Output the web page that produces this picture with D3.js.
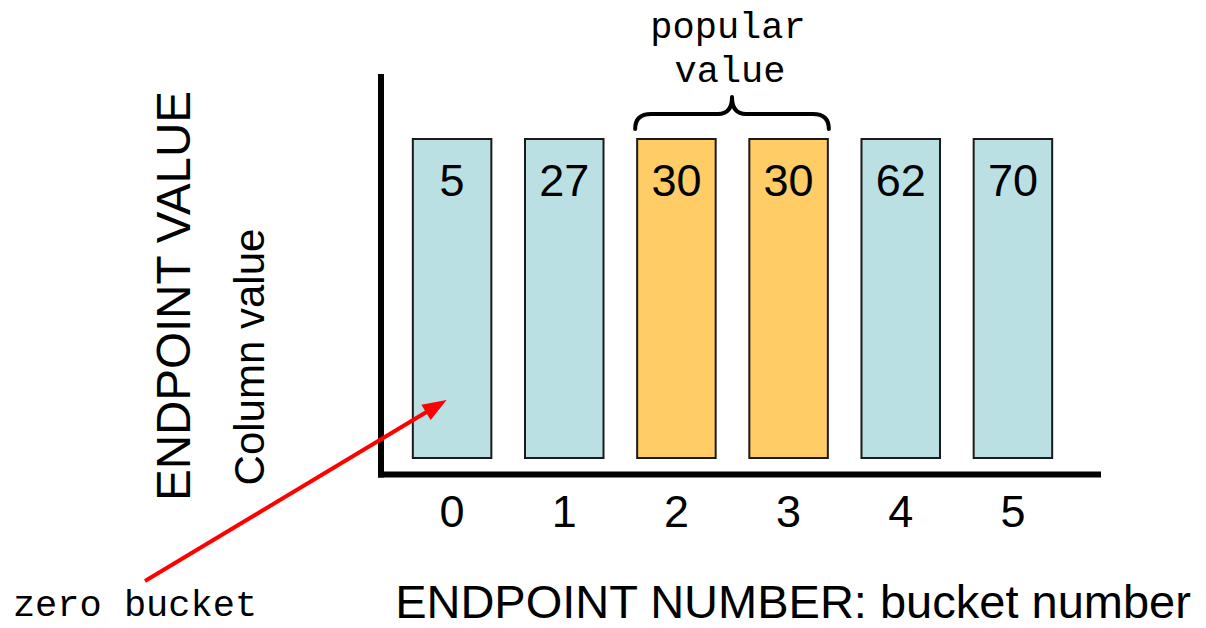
<!DOCTYPE html>
<html>
<head>
<meta charset="utf-8">
<script src="https://cdn.jsdelivr.net/npm/d3@7/dist/d3.min.js"></script>
<style>
  html, body { margin: 0; padding: 0; background: #fff; }
  svg { display: block; }
</style>
</head>
<body>
<svg id="chart" width="1206" height="628"></svg>
<script>
// Height-balanced histogram: every bucket holds the same number of rows,
// the label inside each bar is that bucket's endpoint value.
const buckets = [0, 1, 2, 3, 4, 5];
const endpointValues = [5, 27, 30, 30, 62, 70];
const rowsPerBucket = [1, 1, 1, 1, 1, 1];
const popularBuckets = [2, 3];

const tealFill = "#bbe0e3";
const orangeFill = "#ffcc66";
const sans = "'Liberation Sans', Arial, sans-serif";
const mono = "'Liberation Mono', 'Courier New', monospace";

const svg = d3.select("#chart");

const x = d3.scaleBand()
  .domain(buckets)
  .range([396, 1069])
  .paddingInner(0.3)
  .paddingOuter(0.15);

const y = d3.scaleLinear()
  .domain([0, 1])
  .range([458, 139]);

// Axes: heavy L-shaped frame
const axisX = 381, axisY = 474.5;
svg.append("line")
  .attr("x1", axisX).attr("x2", axisX)
  .attr("y1", 74).attr("y2", axisY + 3)
  .attr("stroke", "#000").attr("stroke-width", 6);
svg.append("line")
  .attr("x1", axisX - 3).attr("x2", 1101)
  .attr("y1", axisY).attr("y2", axisY)
  .attr("stroke", "#000").attr("stroke-width", 6);

// Bars
svg.append("g").selectAll("rect")
  .data(buckets)
  .join("rect")
  .attr("x", d => x(d))
  .attr("width", x.bandwidth())
  .attr("y", (d, i) => y(rowsPerBucket[i]))
  .attr("height", (d, i) => y(0) - y(rowsPerBucket[i]))
  .attr("fill", d => popularBuckets.includes(d) ? orangeFill : tealFill)
  .attr("stroke", "#1a1a1a")
  .attr("stroke-width", 2);

// Endpoint values inside the bars
svg.append("g").selectAll("text")
  .data(buckets)
  .join("text")
  .attr("x", d => x(d) + x.bandwidth() / 2)
  .attr("y", (d, i) => y(rowsPerBucket[i]) + 57)
  .attr("text-anchor", "middle")
  .attr("font-family", sans)
  .attr("font-size", 45)
  .attr("fill", "#000")
  .text((d, i) => endpointValues[i]);

// Bucket numbers below the axis
svg.append("g").selectAll("text")
  .data(buckets)
  .join("text")
  .attr("x", d => x(d) + x.bandwidth() / 2)
  .attr("y", 527)
  .attr("text-anchor", "middle")
  .attr("font-family", sans)
  .attr("font-size", 45)
  .attr("fill", "#000")
  .text(d => d);

// Axis titles
svg.append("text")
  .attr("transform", "translate(190,296) rotate(-90)")
  .attr("text-anchor", "middle")
  .attr("font-family", sans)
  .attr("font-size", 47.5)
  .text("ENDPOINT VALUE");

svg.append("text")
  .attr("transform", "translate(264,357) rotate(-90)")
  .attr("text-anchor", "middle")
  .attr("font-family", sans)
  .attr("font-size", 42)
  .text("Column value");

svg.append("text")
  .attr("x", 793)
  .attr("y", 618)
  .attr("text-anchor", "middle")
  .attr("font-family", sans)
  .attr("font-size", 47)
  .text("ENDPOINT NUMBER: bucket number");

// Curly brace over the popular value buckets
const bx0 = x(popularBuckets[0]) - 2;
const bx1 = x(popularBuckets[popularBuckets.length - 1]) + x.bandwidth() + 1;
const bm = (bx0 + bx1) / 2;
const yEnd = 129, yMid = 114, yTip = 97;
const brace = d3.path();
brace.moveTo(bx0, yEnd);
brace.quadraticCurveTo(bx0, yMid, bx0 + 16, yMid);
brace.lineTo(bm - 14, yMid);
brace.quadraticCurveTo(bm, yMid, bm, yTip);
brace.quadraticCurveTo(bm, yMid, bm + 14, yMid);
brace.lineTo(bx1 - 16, yMid);
brace.quadraticCurveTo(bx1, yMid, bx1, yEnd);
svg.append("path")
  .attr("d", brace.toString())
  .attr("fill", "none")
  .attr("stroke", "#000")
  .attr("stroke-width", 4)
  .attr("stroke-linecap", "round")
  .attr("stroke-linejoin", "round");

const note = svg.append("text")
  .attr("text-anchor", "middle")
  .attr("font-family", mono)
  .attr("font-size", 37)
  .attr("fill", "#000");
note.append("tspan").attr("x", bm - 4).attr("y", 38).text("popular");
note.append("tspan").attr("x", bm - 2).attr("y", 82).text("value");

// Arrow pointing at the zero bucket
const tipX = x(0) + x.bandwidth() * 0.43, tipY = 400;
const startX = 145, startY = 581;
const ang = Math.atan2(tipY - startY, tipX - startX);
const headLen = 24, headHalf = 9;
const baseX = tipX - headLen * Math.cos(ang), baseY = tipY - headLen * Math.sin(ang);
svg.append("line")
  .attr("x1", startX).attr("y1", startY)
  .attr("x2", baseX + 2 * Math.cos(ang)).attr("y2", baseY + 2 * Math.sin(ang))
  .attr("stroke", "#ff0000")
  .attr("stroke-width", 4);
svg.append("polygon")
  .attr("points", [
    [tipX, tipY],
    [baseX - headHalf * Math.sin(ang), baseY + headHalf * Math.cos(ang)],
    [baseX + headHalf * Math.sin(ang), baseY - headHalf * Math.cos(ang)]
  ].map(p => p.join(",")).join(" "))
  .attr("fill", "#ff0000");

svg.append("text")
  .attr("x", 135)
  .attr("y", 616)
  .attr("text-anchor", "middle")
  .attr("font-family", mono)
  .attr("font-size", 37)
  .attr("fill", "#000")
  .text("zero bucket");
</script>
</body>
</html>
